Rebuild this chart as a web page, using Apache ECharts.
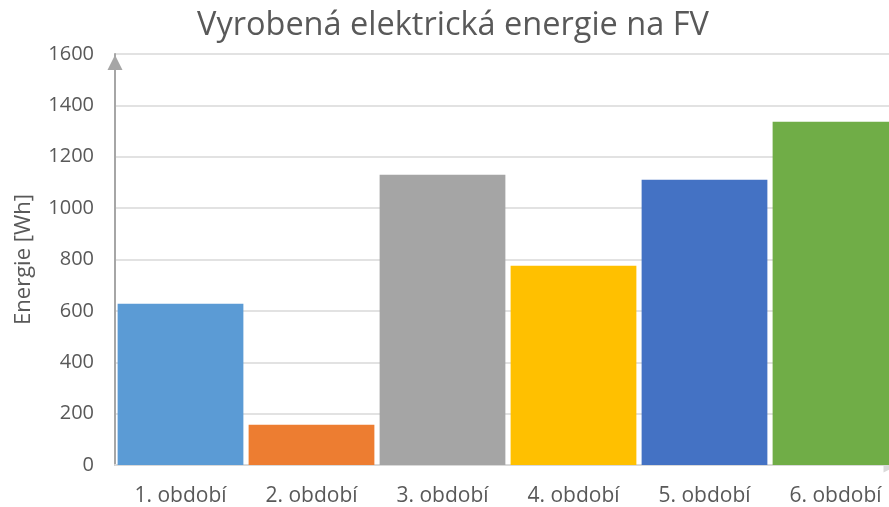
<!DOCTYPE html>
<html>
<head>
<meta charset="utf-8">
<script src="https://cdn.jsdelivr.net/npm/echarts@6/dist/echarts.min.js"></script>
<style>
  html, body { margin: 0; padding: 0; background: #ffffff; }
  #chart { width: 889px; height: 507px; }
</style>
</head>
<body>
<div id="chart"></div>
<script>
// Period labels and produced energy per period (Wh)
const periods = ['1. období', '2. období', '3. období', '4. období', '5. období', '6. období'];
const energyWh = [628, 157, 1130, 776, 1110, 1336];
const barColors = ['#5b9bd5', '#ed7d31', '#a5a5a5', '#ffc000', '#4472c4', '#70ad47'];
const yTicks = { min: 0, max: 1600, step: 200 };

const chart = echarts.init(document.getElementById('chart'), null, { renderer: 'canvas' });
const textColor = '#595959';
const fontFamily = '"Open Sans", "DejaVu Sans", sans-serif';

chart.setOption({
  animation: false,
  backgroundColor: '#ffffff',
  title: {
    text: 'Vyrobená elektrická energie na FV',
    left: 192,
    top: 4,
    textStyle: { color: textColor, fontFamily: fontFamily, fontSize: 32.5, fontWeight: 'normal' }
  },
  // plot area runs slightly past the right edge of the canvas
  grid: { left: 115, width: 786, top: 54, bottom: 42, containLabel: false, outerBoundsMode: 'none' },
  xAxis: {
    type: 'category',
    data: periods,
    axisTick: { show: false },
    axisLine: {
      show: true,
      lineStyle: { color: '#d9d9d9', width: 2 },
      symbol: ['none', 'triangle'],
      symbolSize: [15, 15],
      symbolOffset: [0, -10]
    },
    axisLabel: { color: textColor, fontFamily: fontFamily, fontSize: 21, margin: 21 },
    splitLine: { show: false }
  },
  yAxis: {
    type: 'value',
    min: yTicks.min,
    max: yTicks.max,
    interval: yTicks.step,
    name: 'Energie [Wh]',
    nameLocation: 'middle',
    nameGap: 80,
    nameTextStyle: { color: textColor, fontFamily: fontFamily, fontSize: 22 },
    axisLine: {
      show: true,
      lineStyle: { color: '#a6a6a6', width: 2 },
      symbol: ['none', 'triangle'],
      symbolSize: [15, 15],
      symbolOffset: [0, -8.5]
    },
    axisTick: { show: false },
    axisLabel: {
      color: textColor, fontFamily: fontFamily, fontSize: 20, margin: 21,
      formatter: (v) => String(v)
    },
    splitLine: { show: true, lineStyle: { color: '#d9d9d9', width: 1.5 } }
  },
  series: [{
    type: 'bar',
    barCategoryGap: '4%',
    data: energyWh.map((v, i) => ({ value: v, itemStyle: { color: barColors[i] } }))
  }]
});
</script>
</body>
</html>
